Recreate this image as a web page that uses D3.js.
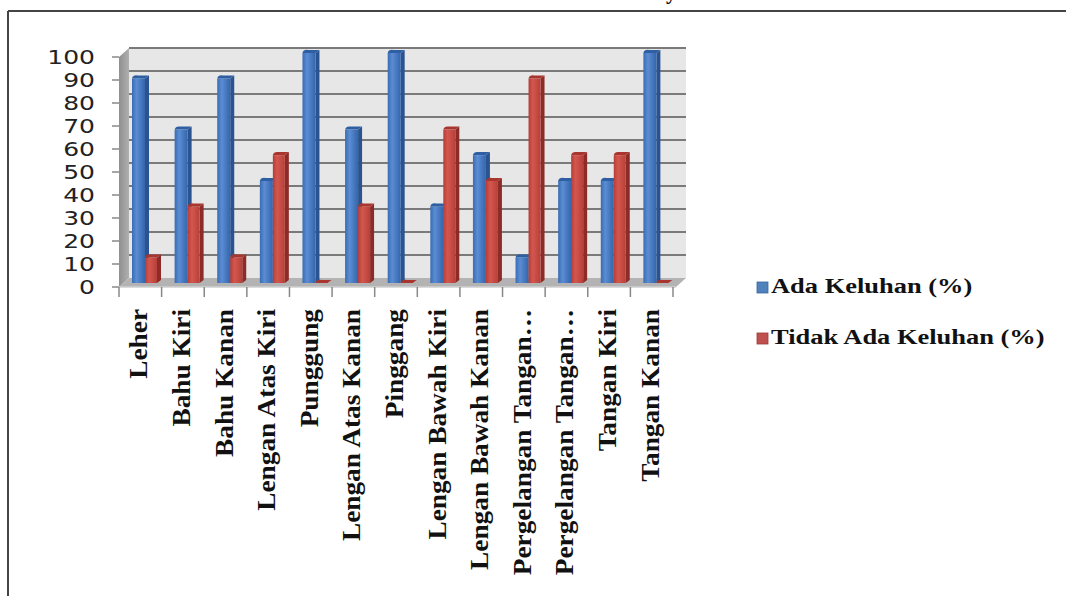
<script src='https://cdn.jsdelivr.net/npm/d3@7/dist/d3.min.js'></script>
<style>body{margin:0;background:#fff;} svg{display:block;}</style>
<svg id='chart'/>
<script>
var cats=['Leher','Bahu Kiri','Bahu Kanan','Lengan Atas Kiri','Punggung','Lengan Atas Kanan',
          'Pinggang','Lengan Bawah Kiri','Lengan Bawah Kanan','Pergelangan Tangan\u2026',
          'Pergelangan Tangan\u2026','Tangan Kiri','Tangan Kanan'];
var ada=[88.9,66.7,88.9,44.4,100,66.7,100,33.3,55.6,11.1,44.4,44.4,100];
var tidak=[11.1,33.3,11.1,55.6,0,33.3,0,66.7,44.4,88.9,55.6,55.6,0];
var yTicks=[0,10,20,30,40,50,60,70,80,90,100];
var seriesNames=['Ada Keluhan (%)','Tidak Ada Keluhan (%)'];

var W=1066,H=596,wx=10,wy=-9;   // wall depth offset
var svg=d3.select('#chart').attr('width',W).attr('height',H);
var x=d3.scaleBand().domain(d3.range(cats.length)).range([119,673]),
    y=d3.scaleLinear().domain([0,100]).range([287,57]);
var x0=x.range()[0],x1=x.range()[1];

// frame
svg.append('line').attr('x1',8).attr('x2',W).attr('y1',11).attr('y2',11)
   .attr('stroke','#444').attr('stroke-width',2);
svg.append('line').attr('x1',8).attr('x2',8).attr('y1',11).attr('y2',H)
   .attr('stroke','#444').attr('stroke-width',2);
svg.append('text').attr('x',666).attr('y',-1).attr('font-family','Liberation Serif')
   .attr('font-weight','bold').attr('font-size',21).text('y');

var defs=svg.append('defs');
function grad(id,stops){
  var g=defs.append('linearGradient').attr('id',id);
  stops.forEach(function(s){g.append('stop').attr('offset',s[0]).attr('stop-color',s[1]);});
}
grad('gBlue',[['0%','#3b6cb3'],['35%','#5a8dd4'],['100%','#3565ab']]);
grad('gRed',[['0%','#b53d37'],['35%','#d4574e'],['100%','#b5403a']]);
grad('gSide',[['0%','#8f8f8f'],['100%','#b0b0b0']]);

// back wall
svg.append('rect').attr('x',x0+wx).attr('y',y(100)+wy).attr('width',x1-x0+3)
   .attr('height',y(0)-y(100)).attr('fill','#e7e7e7');
// side wall
svg.append('path').attr('d','M'+x0+','+y(100)+'L'+(x0+wx)+','+(y(100)+wy)+'L'+(x0+wx)+','+(y(0)+wy)
   +'L'+x0+','+y(0)+'Z').attr('fill','url(#gSide)');
// gridlines
svg.selectAll('.grid').data(yTicks.slice(1)).enter().append('line')
   .attr('x1',x0+wx).attr('x2',x1+wx+3)
   .attr('y1',function(d){return y(d)+wy;}).attr('y2',function(d){return y(d)+wy;})
   .attr('stroke','#7a7a7a').attr('stroke-width',2);
// floor
svg.append('path').attr('d','M'+x0+','+y(0)+'L'+(x0+wx)+','+(y(0)+wy)+'L'+(x1+wx+3)+','+(y(0)+wy)
   +'L'+(x1+3)+','+y(0)+'Z').attr('fill','#b3b3b3');
svg.append('line').attr('x1',x0).attr('x2',x1+3).attr('y1',y(0)).attr('y2',y(0))
   .attr('stroke','#cfcfcf').attr('stroke-width',1.5);

// y axis ticks and labels
svg.selectAll('.yt').data(yTicks).enter().append('line')
   .attr('x1',112).attr('x2',x0).attr('y1',function(d){return y(d);}).attr('y2',function(d){return y(d);})
   .attr('stroke','#888').attr('stroke-width',1.5);
svg.selectAll('.yl').data(yTicks).enter().append('text')
   .attr('transform',function(d){return 'translate(95,'+y(d)+') scale(1.25,1)';})
   .attr('text-anchor','end').attr('dy','0.36em')
   .attr('font-family','DejaVu Sans').attr('font-size',20).attr('fill','#222')
   .text(function(d){return d;});

// x ticks
svg.selectAll('.xt').data(d3.range(cats.length+1)).enter().append('line')
   .attr('x1',function(i){return x0+i*x.step();}).attr('x2',function(i){return x0+i*x.step();})
   .attr('y1',y(0)).attr('y2',y(0)+10).attr('stroke','#888').attr('stroke-width',1.5);

// bars
var bd=4,bh=-3,base=-4;
function bar(g,xf,w,v,fill,side,top){
  var yt=y(v)+base,yb=y(0)+base;
  g.append('path').attr('d','M'+(xf+w)+','+yb+'L'+(xf+w+bd)+','+(yb+bh)+'L'+(xf+w+bd)+','+(yt+bh)
     +'L'+(xf+w)+','+yt+'Z').attr('fill',side);
  g.append('rect').attr('x',xf).attr('y',yt).attr('width',w).attr('height',yb-yt).attr('fill',fill);
  g.append('path').attr('d','M'+xf+','+yt+'Q'+(xf+1)+','+(yt+bh-1)+' '+(xf+bd+2)+','+(yt+bh)
     +'L'+(xf+w+bd)+','+(yt+bh)+'L'+(xf+w)+','+yt+'Z').attr('fill',top);
}
var gBars=svg.append('g');
cats.forEach(function(c,i){
  var s=x(i);
  var g=gBars.append('g');
  bar(g,s+13,13,ada[i],'url(#gBlue)','#2a5391','#2f5fa3');
  bar(g,s+26,12,tidak[i],'url(#gRed)','#8f2b26','#a8362f');
});

// category labels
svg.selectAll('.xl').data(cats).enter().append('text')
   .attr('transform',function(d,i){return 'translate('+(x(i)+x.bandwidth()/2+7)+',309) rotate(-90) scale(1.3,1.2)';})
   .attr('text-anchor','end').attr('font-family','Liberation Serif').attr('font-weight','bold')
   .attr('font-size',21).attr('fill','#111').text(function(d){return d;});

// legend
var lg=svg.selectAll('.lg').data(seriesNames).enter().append('g')
   .attr('transform',function(d,i){return 'translate(757,'+(282+i*51)+')';});
lg.append('rect').attr('width',11).attr('height',11)
  .attr('fill',function(d,i){return i?'#c0504d':'#4f81bd';})
  .attr('stroke',function(d,i){return i?'#9a3a37':'#3b679c';}).attr('stroke-width',0.8);
lg.append('text').attr('transform','translate(14,11) scale(1.26,1)')
  .attr('font-family','Liberation Serif').attr('font-weight','bold').attr('font-size',21)
  .attr('fill','#111').text(function(d){return d;});
</script>
